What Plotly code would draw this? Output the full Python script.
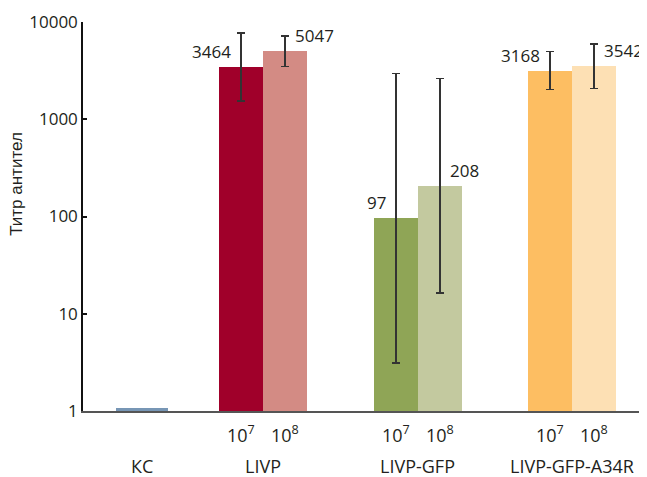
import numpy as np
import plotly.graph_objects as go

# ---- data ----
groups = ["КС", "LIVP", "LIVP-GFP", "LIVP-GFP-A34R"]
doses = ["10<sup>7</sup>", "10<sup>8</sup>"]
kc_value = 1.08
titer_1e7 = [3464, 97, 3168]
titer_1e8 = [5047, 208, 3542]
upper_1e7 = [7700, 2950, 4950]
lower_1e7 = [1540, 3.1, 2030]
upper_1e8 = [7200, 2630, 5970]
lower_1e8 = [3480, 16.3, 2080]
y_ticks = [1, 10, 100, 1000, 10000]
y_title = "Титр антител"

# ---- styles / layout ----
col_kc = "#7796b5"
cols_1e7 = ["#a0002a", "#8fa556", "#fdbe62"]
cols_1e8 = ["#d38b84", "#c3c99f", "#fde0b4"]
group_centers = [1.34, 4.09, 7.61, 11.11]
bw = 1.0
kc_w = 1.18
txt = "#231f20"
num_font = "Open Sans"

fig = go.Figure()
fig.add_trace(go.Bar(x=[group_centers[0]], y=[kc_value], width=[kc_w],
                     marker=dict(color=col_kc, line=dict(width=0)), showlegend=False))

x7 = [c - bw / 2 for c in group_centers[1:]]
x8 = [c + bw / 2 for c in group_centers[1:]]
for xs, vals, up, lo, cols in [(x7, titer_1e7, upper_1e7, lower_1e7, cols_1e7),
                               (x8, titer_1e8, upper_1e8, lower_1e8, cols_1e8)]:
    fig.add_trace(go.Bar(
        x=xs, y=vals, width=[bw] * len(xs),
        marker=dict(color=cols, line=dict(width=0)), showlegend=False,
        error_y=dict(type="data", symmetric=False,
                     array=[u - v for u, v in zip(up, vals)],
                     arrayminus=[v - l for v, l in zip(vals, lo)],
                     color="#333333", thickness=1.4, width=4)))

ann = []
for i in range(3):
    ann.append(dict(x=x7[i], y=np.log10(titer_1e7[i]), xref="x", yref="y",
                    text=str(titer_1e7[i]), showarrow=False, xanchor="right",
                    yanchor="middle", xshift=-8, yshift=15,
                    font=dict(family=num_font, size=17, color=txt)))
    ann.append(dict(x=x8[i], y=np.log10(titer_1e8[i]), xref="x", yref="y",
                    text=str(titer_1e8[i]), showarrow=False, xanchor="left",
                    yanchor="middle", xshift=8, yshift=15,
                    font=dict(family=num_font, size=17, color=txt)))
    for xx, d in zip([x7[i], x8[i]], doses):
        ann.append(dict(x=xx, y=0, xref="x", yref="paper", text=d, showarrow=False,
                        xanchor="center", yanchor="middle", yshift=-23,
                        font=dict(family=num_font, size=18, color=txt)))
for c, g in zip(group_centers, groups):
    ann.append(dict(x=c, y=0, xref="x", yref="paper", text=g, showarrow=False,
                    xanchor="center", yanchor="middle", yshift=-55,
                    font=dict(family=num_font, size=18, color=txt)))
# y-axis title (placed above the axis middle, as in the original)
ann.append(dict(x=0, y=0.584, xref="paper", yref="paper", text=y_title,
                showarrow=False, textangle=-90, xanchor="center", yanchor="middle",
                xshift=-66, font=dict(family="Liberation Sans", size=17, color=txt)))

# page body has an 8px margin, so the figure is drawn 8px in from the corner
fig.update_layout(
    width=639, height=469,
    margin=dict(l=75, r=2, t=11, b=66),
    paper_bgcolor="white", plot_bgcolor="white",
    barmode="overlay", bargap=0,
    annotations=ann,
    xaxis=dict(range=[0, 12.77], showgrid=False, zeroline=False, showticklabels=False,
               ticks="", showline=True, linecolor="#555555", linewidth=2),
    yaxis=dict(type="log", range=[-0.0005, 4.0005], tickvals=y_ticks,
               ticktext=[str(t) for t in y_ticks], ticklabeloverflow="allow",
               showgrid=False, zeroline=False, showline=True, linecolor="#111111",
               linewidth=1.5, ticks="inside", ticklen=4, tickcolor="#111111",
               tickwidth=1.5,
               tickfont=dict(family=num_font, size=17, color=txt)),
)

fig.write_html("out.html")
